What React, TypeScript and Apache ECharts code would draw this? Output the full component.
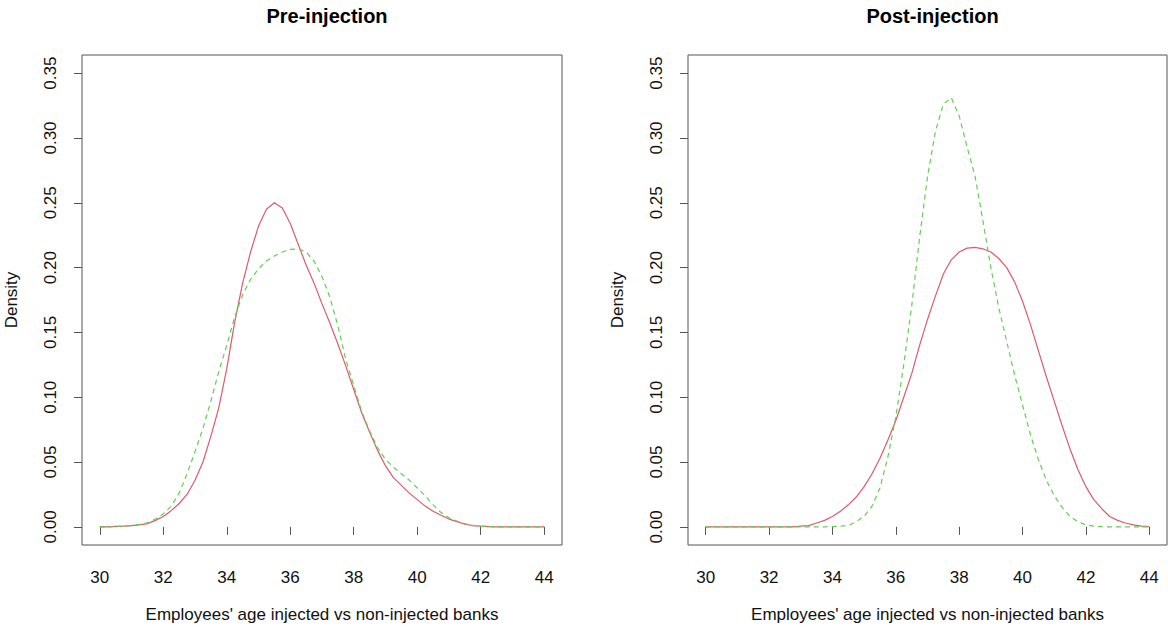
import React, { useEffect, useRef } from "react";
import * as echarts from "echarts";

const ages = [30, 30.25, 30.5, 30.75, 31, 31.25, 31.5, 31.75, 32, 32.25, 32.5, 32.75, 33, 33.25, 33.5, 33.75, 34, 34.25, 34.5, 34.75, 35, 35.25, 35.5, 35.75, 36, 36.25, 36.5, 36.75, 37, 37.25, 37.5, 37.75, 38, 38.25, 38.5, 38.75, 39, 39.25, 39.5, 39.75, 40, 40.25, 40.5, 40.75, 41, 41.25, 41.5, 41.75, 42, 42.25, 42.5, 42.75, 43, 43.25, 43.5, 43.75, 44];

const preInjected = [0, 0, 0.0003, 0.0006, 0.001, 0.0015, 0.0025, 0.005, 0.008, 0.0125, 0.018, 0.025, 0.036, 0.05, 0.07, 0.092, 0.122, 0.158, 0.188, 0.212, 0.232, 0.245, 0.25, 0.246, 0.234, 0.218, 0.202, 0.188, 0.172, 0.157, 0.141, 0.124, 0.106, 0.088, 0.073, 0.059, 0.047, 0.038, 0.032, 0.026, 0.021, 0.016, 0.012, 0.009, 0.006, 0.004, 0.002, 0.001, 0.0005, 0.0002, 0, 0, 0, 0, 0, 0, 0];

const preNonInjected = [0, 0, 0.0003, 0.0006, 0.001, 0.002, 0.003, 0.006, 0.01, 0.016, 0.026, 0.041, 0.058, 0.076, 0.097, 0.12, 0.14, 0.162, 0.179, 0.191, 0.199, 0.205, 0.209, 0.212, 0.214, 0.2145, 0.212, 0.205, 0.193, 0.177, 0.155, 0.129, 0.109, 0.089, 0.074, 0.061, 0.052, 0.046, 0.041, 0.036, 0.03, 0.024, 0.017, 0.011, 0.007, 0.0045, 0.0025, 0.0012, 0.0005, 0.0002, 0, 0, 0, 0, 0, 0, 0];

const postInjected = [0, 0, 0, 0, 0, 0, 0, 0, 0, 0, 0, 0, 0.0005, 0.001, 0.003, 0.005, 0.008, 0.012, 0.017, 0.023, 0.031, 0.041, 0.053, 0.067, 0.082, 0.1, 0.118, 0.14, 0.16, 0.178, 0.195, 0.206, 0.212, 0.215, 0.2156, 0.2145, 0.212, 0.207, 0.2, 0.189, 0.174, 0.156, 0.136, 0.116, 0.097, 0.078, 0.06, 0.044, 0.031, 0.021, 0.014, 0.008, 0.005, 0.003, 0.0015, 0.0006, 0.0002];

const postNonInjected = [0, 0, 0, 0, 0, 0, 0, 0, 0, 0, 0, 0, 0, 0, 0, 0, 0.0002, 0.0005, 0.001, 0.004, 0.008, 0.016, 0.03, 0.054, 0.085, 0.125, 0.17, 0.223, 0.27, 0.305, 0.326, 0.331, 0.317, 0.293, 0.2705, 0.236, 0.2, 0.169, 0.143, 0.117, 0.094, 0.071, 0.052, 0.036, 0.024, 0.015, 0.008, 0.004, 0.0015, 0.0005, 0.0001, 0, 0, 0, 0, 0, 0];

const xTicks = [30, 32, 34, 36, 38, 40, 42, 44];
const yTicks = [0, 0.05, 0.1, 0.15, 0.2, 0.25, 0.3, 0.35];
const panelTitles = ["Pre-injection", "Post-injection"];
const xTitle = "Employees' age injected vs non-injected banks";
const yTitle = "Density";

const FONT = "'Liberation Sans', Arial, Helvetica, sans-serif";
const RED = "#E0596E";
const GREEN = "#61D04F";
const AXIS = "#555";

export default function App() {
  const ref = useRef<HTMLDivElement>(null);
  useEffect(() => {
    if (!ref.current) return;
    const chart = echarts.init(ref.current, null, { renderer: "svg" });
    const grids = [
      { left: 82, top: 55, width: 480, height: 490 },
      { left: 688, top: 55, width: 479, height: 490 },
    ];
    const pair = (ys: number[]) => ages.map((a, i) => [a, ys[i]]);
    const mkX = (gi: number) => ({
      type: "value",
      gridIndex: gi,
      min: 29.44,
      max: 44.56,
      name: xTitle,
      nameLocation: "middle",
      nameGap: 61,
      nameTextStyle: { fontSize: 17, color: "#111", fontFamily: FONT },
      axisLine: { show: false },
      splitLine: { show: false },
      axisTick: { show: true, customValues: xTicks, length: 8, lineStyle: { color: AXIS } },
      axisLabel: {
        customValues: xTicks,
        fontSize: 17,
        margin: 24,
        color: "#111",
        fontFamily: FONT,
        formatter: (v: number) => String(v),
      },
    });
    const mkY = (gi: number) => ({
      type: "value",
      gridIndex: gi,
      min: -0.014,
      max: 0.364,
      name: yTitle,
      nameLocation: "middle",
      nameRotate: 90,
      nameGap: 62,
      nameTextStyle: { fontSize: 17, color: "#111", fontFamily: FONT },
      axisLine: { show: false },
      splitLine: { show: false },
      axisTick: { show: true, customValues: yTicks, length: 8, lineStyle: { color: AXIS } },
      axisLabel: {
        customValues: yTicks,
        rotate: 90,
        fontSize: 17,
        margin: 23,
        color: "#111",
        fontFamily: FONT,
        formatter: (v: number) => v.toFixed(2),
      },
    });
    const line = (gi: number, ys: number[], color: string, dashed: boolean) => ({
      type: "line",
      xAxisIndex: gi,
      yAxisIndex: gi,
      data: pair(ys),
      showSymbol: false,
      symbol: "none",
      smooth: false,
      lineStyle: { color, width: 1.2, type: dashed ? [5, 4] : "solid" },
      z: dashed ? 3 : 2,
    });
    chart.setOption({
      animation: false,
      backgroundColor: "#fff",
      title: panelTitles.map((t, i) => ({
        text: t,
        left: grids[i].left + grids[i].width / 2,
        top: 1,
        textAlign: "center",
        textStyle: { fontSize: 20, fontWeight: "bold", color: "#000", fontFamily: FONT },
      })),
      grid: grids.map((g) => ({ ...g, show: true, borderColor: AXIS, borderWidth: 1, backgroundColor: "transparent" })),
      xAxis: [mkX(0), mkX(1)],
      yAxis: [mkY(0), mkY(1)],
      series: [
        line(0, preInjected, RED, false),
        line(0, preNonInjected, GREEN, true),
        line(1, postInjected, RED, false),
        line(1, postNonInjected, GREEN, true),
      ],
    });
    return () => chart.dispose();
  }, []);
  return (
    <div
      ref={ref}
      style={{ position: "fixed", left: 0, top: 0, width: 1168, height: 630, background: "#fff" }}
    />
  );
}
